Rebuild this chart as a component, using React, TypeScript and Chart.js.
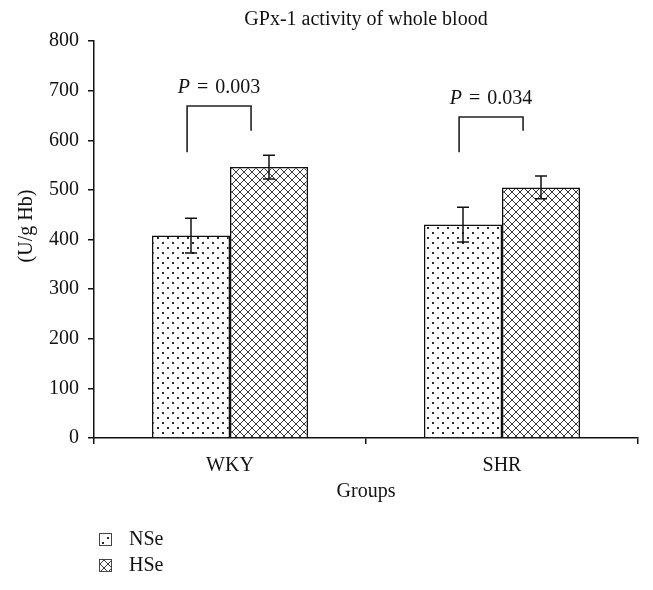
import { useEffect, useRef } from 'react';
import { Chart, registerables } from 'chart.js';

Chart.register(...registerables);

const categories = ['WKY', 'SHR'];
const seriesNames = ['NSe', 'HSe'];
const nseValues = [408, 430];
const nseErrors = [35, 35];
const hseValues = [546, 505];
const hseErrors = [24, 23];
const yTickValues = [0, 100, 200, 300, 400, 500, 600, 700, 800];
const pValues = ['0.003', '0.034'];
const bracketTop = [669, 647];
const bracketLeftBottom = [576, 576];
const bracketRightBottom = [619, 619];
const chartTitle = 'GPx-1 activity of whole blood';
const yAxisTitle = '(U/g Hb)';
const xAxisTitle = 'Groups';

const FONT_FAMILY = '"Liberation Serif", "Times New Roman", serif';
const FONT_SIZE = 20;

function makeDotPattern(ctx: CanvasRenderingContext2D) {
  const c = document.createElement('canvas');
  c.width = 10;
  c.height = 10;
  const g = c.getContext('2d')!;
  g.fillStyle = '#ffffff';
  g.fillRect(0, 0, 10, 10);
  g.fillStyle = '#2a2a2a';
  g.fillRect(2, 2, 2, 2);
  g.fillRect(7, 7, 2, 2);
  return ctx.createPattern(c, 'repeat')!;
}

function makeHatchPattern(ctx: CanvasRenderingContext2D) {
  const c = document.createElement('canvas');
  c.width = 8;
  c.height = 8;
  const g = c.getContext('2d')!;
  g.fillStyle = '#ffffff';
  g.fillRect(0, 0, 8, 8);
  g.strokeStyle = '#3a3a3a';
  g.lineWidth = 1;
  g.beginPath();
  g.moveTo(-1, -1);
  g.lineTo(9, 9);
  g.moveTo(9, -1);
  g.lineTo(-1, 9);
  g.stroke();
  return ctx.createPattern(c, 'repeat')!;
}

export default function App() {
  const ref = useRef<HTMLCanvasElement | null>(null);

  useEffect(() => {
    document.body.style.margin = '0';
    const canvas = ref.current!;
    const ctx = canvas.getContext('2d')!;
    const dot = makeDotPattern(ctx);
    const hatch = makeHatchPattern(ctx);
    const patterns = [dot, hatch];
    const errors = [nseErrors, hseErrors];

    const decorations = {
      id: 'decorations',
      afterDatasetsDraw(chart: any) {
        const c = chart.ctx as CanvasRenderingContext2D;
        const ys = chart.scales.y;
        c.save();
        // error bars
        c.strokeStyle = '#111';
        c.lineWidth = 1.5;
        chart.data.datasets.forEach((ds: any, i: number) => {
          const meta = chart.getDatasetMeta(i);
          meta.data.forEach((el: any, j: number) => {
            const v = ds.data[j];
            const e = errors[i][j];
            const yt = ys.getPixelForValue(v + e);
            const yb = ys.getPixelForValue(v - e);
            c.beginPath();
            c.moveTo(el.x, yt);
            c.lineTo(el.x, yb);
            c.moveTo(el.x - 6, yt);
            c.lineTo(el.x + 6, yt);
            c.moveTo(el.x - 6, yb);
            c.lineTo(el.x + 6, yb);
            c.stroke();
          });
        });
        // brackets and p-values
        const m0 = chart.getDatasetMeta(0);
        const m1 = chart.getDatasetMeta(1);
        categories.forEach((_, j) => {
          const b0 = m0.data[j];
          const b1 = m1.data[j];
          const w = b0.width;
          const xl = b0.x - 0.05 * w;
          const xr = b1.x - 0.23 * w;
          const yt = ys.getPixelForValue(bracketTop[j]);
          const yl = ys.getPixelForValue(bracketLeftBottom[j]);
          const yr = ys.getPixelForValue(bracketRightBottom[j]);
          c.strokeStyle = '#222';
          c.lineWidth = 1.6;
          c.beginPath();
          c.moveTo(xl, yl);
          c.lineTo(xl, yt);
          c.lineTo(xr, yt);
          c.lineTo(xr, yr);
          c.stroke();
          const xc = (xl + xr) / 2;
          const ty = yt - 18;
          const italic = 'italic ' + FONT_SIZE + 'px ' + FONT_FAMILY;
          const normal = FONT_SIZE + 'px ' + FONT_FAMILY;
          const gap = 7;
          c.font = italic;
          const wP = c.measureText('P').width;
          c.font = normal;
          const wEq = c.measureText('=').width;
          const wN = c.measureText(pValues[j]).width;
          const total = wP + gap + wEq + gap + wN;
          let x = xc - total / 2;
          c.fillStyle = '#111';
          c.textBaseline = 'middle';
          c.textAlign = 'left';
          c.font = italic;
          c.fillText('P', x, ty);
          x += wP + gap;
          c.font = normal;
          c.fillText('=', x, ty);
          x += wEq + gap;
          c.fillText(pValues[j], x, ty);
        });
        c.restore();
      },
      afterDraw(chart: any) {
        const c = chart.ctx as CanvasRenderingContext2D;
        const area = chart.chartArea;
        c.save();
        c.fillStyle = '#111';
        c.font = FONT_SIZE + 'px ' + FONT_FAMILY;
        c.textBaseline = 'middle';
        c.textAlign = 'center';
        c.fillText(chartTitle, (area.left + area.right) / 2, 20);
        // y-axis title
        c.save();
        c.translate(27, 226);
        c.rotate(-Math.PI / 2);
        c.fillText(yAxisTitle, 0, 0);
        c.restore();
        // legend
        c.textAlign = 'left';
        seriesNames.forEach((name, i) => {
          const cy = 540 + i * 26;
          c.fillStyle = patterns[i];
          c.fillRect(99, cy - 7, 13, 13);
          c.strokeStyle = '#444';
          c.lineWidth = 1;
          c.strokeRect(99.5, cy - 6.5, 12, 12);
          c.fillStyle = '#111';
          c.fillText(name, 129, cy);
        });
        c.restore();
      },
    };

    const chart = new Chart(canvas, {
      type: 'bar',
      data: {
        labels: categories,
        datasets: [
          {
            label: seriesNames[0],
            data: nseValues,
            backgroundColor: dot,
            borderColor: '#111',
            borderWidth: 1.5,
            categoryPercentage: 0.5735,
            barPercentage: 1.0,
          },
          {
            label: seriesNames[1],
            data: hseValues,
            backgroundColor: hatch,
            borderColor: '#111',
            borderWidth: 1.5,
            categoryPercentage: 0.5735,
            barPercentage: 1.0,
          },
        ],
      },
      options: {
        responsive: false,
        animation: false,
        layout: { padding: { top: 41, right: 15, bottom: 70, left: 0 } },
        plugins: {
          legend: { display: false },
          title: { display: false },
          tooltip: { enabled: false },
        },
        scales: {
          x: {
            offset: true,
            grid: {
              display: true,
              drawOnChartArea: false,
              drawTicks: true,
              tickLength: 6,
              color: '#111',
              lineWidth: 1.5,
              offset: true,
            },
            border: { display: true, color: '#111', width: 1.5 },
            ticks: {
              color: '#111',
              font: { family: FONT_FAMILY, size: FONT_SIZE },
              padding: 10,
            },
            title: {
              display: true,
              text: xAxisTitle,
              color: '#111',
              font: { family: FONT_FAMILY, size: FONT_SIZE },
              padding: { top: 0, bottom: 16 },
            },
            afterFit: (s: any) => {
              s.height = 82;
            },
          },
          y: {
            min: 0,
            max: 800,
            afterBuildTicks: (s: any) => {
              s.ticks = yTickValues.map((v) => ({ value: v }));
            },
            grid: {
              display: true,
              drawOnChartArea: false,
              drawTicks: true,
              tickLength: 6,
              color: '#111',
              lineWidth: 1.5,
            },
            border: { display: true, color: '#111', width: 1.5 },
            ticks: {
              color: '#111',
              font: { family: FONT_FAMILY, size: FONT_SIZE },
              padding: 9,
            },
            afterFit: (s: any) => {
              s.width = 94;
            },
          },
        },
      },
      plugins: [decorations],
    });

    return () => {
      chart.destroy();
    };
  }, []);

  return (
    <div style={{ width: 653, height: 590 }}>
      <canvas ref={ref} width={653} height={590} style={{ display: 'block' }} />
    </div>
  );
}
